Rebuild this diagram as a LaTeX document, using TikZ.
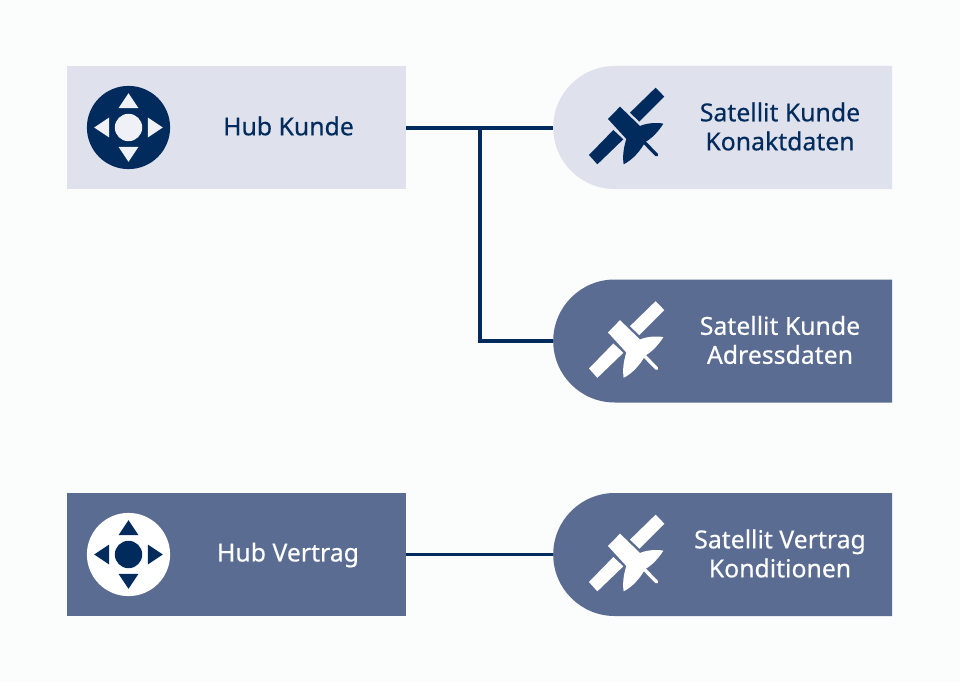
\documentclass[tikz,border=0pt]{standalone}
\usepackage{fontspec}
\setmainfont{Noto Sans}[FakeBold=0.4]
\usetikzlibrary{shapes.misc}
\definecolor{navy}{HTML}{002B5C}
\definecolor{pale}{HTML}{DFE1EC}
\definecolor{slate}{HTML}{5B6C93}
\definecolor{paper}{HTML}{FBFCFC}
\tikzset{
  x=1pt,y=-1pt,
  hubbox/.style={rectangle,draw=none,inner sep=0pt,minimum width=339pt,minimum height=123pt,anchor=north west},
  satbox/.style={rounded rectangle,rounded rectangle east arc=none,draw=none,inner sep=0pt,minimum width=339pt,minimum height=123pt,anchor=west},
  label/.style={align=center,font=\fontsize{24.8}{29}\selectfont,inner sep=0pt},
  link/.style={draw=navy,line width=3.4pt},
  pics/satellite/.style={code={
    \begin{scope}[x=0.3333pt,y=-0.3333pt,fill=#1]
      \fill (332,83) -- (358,110) -- (283,185) -- (255,158) -- cycle;
      \fill (205,210) -- (235,238) -- (157,313) -- (132,285) -- cycle;
      \fill (189,177) -- (225,140) -- (285,198) .. controls (305,189) and (335,187) .. (355,191)
        .. controls (340,215) and (320,236) .. (299,247) -- (296,254)
        .. controls (285,272) and (265,298) .. (236,313)
        .. controls (232,290) and (236,262) .. (244,237) -- cycle;
      \draw[draw=#1,line width=3.4pt,line cap=round] (298,247) -- (335,285);
    \end{scope}}},
  pics/pad/.style 2 args={code={
    \fill[#1] (0,0) circle[radius=41.6pt];
    \fill[#2] (0,0) circle[radius=13.7pt];
    \fill[#2] (0,-34.3) -- (10,-19.3) -- (-10,-19.3) -- cycle;
    \fill[#2] (0,34.3) -- (10,19.3) -- (-10,19.3) -- cycle;
    \fill[#2] (-34.3,0) -- (-19.3,10) -- (-19.3,-10) -- cycle;
    \fill[#2] (34.3,0) -- (19.3,10) -- (19.3,-10) -- cycle;
  }}
}
\begin{document}
\begin{tikzpicture}
\path[use as bounding box,fill=paper] (0,0) rectangle (960,682);

\node[hubbox,fill=pale] (hubk) at (67,66) {};
\node[hubbox,fill=slate] (hubv) at (67,493) {};
\node[satbox,fill=pale] (satk) at (553,127.5) {};
\node[satbox,fill=slate] (sata) at (553,341) {};
\node[satbox,fill=slate] (satv) at (553,554.5) {};

\coordinate (branch) at (480,128);
\coordinate (hubkout) at (406,128);
\draw[link] (hubkout) -- (hubkout -| satk.west);
\draw[link] (branch) |- (sata.west);
\draw[link] (hubv.east) -- (hubv.east -| satv.west);

\pic at (128.5,127.5) {pad={navy}{pale!40!paper}};
\pic at (128.5,554.5) {pad={white}{navy}};

\pic at (545,60) {satellite=navy};
\pic at (545,273.5) {satellite=white};
\pic at (545,487) {satellite=white};

\node[label,text=navy] (thubk) at (288.5,126) {Hub Kunde};
\node[label,text=white] (thubv) at (288,555) {Hub Vertrag};
\node[label,text=navy] (tsatk) at (780,126.5) {Satellit Kunde\\Konaktdaten};
\node[label,text=white] (tsata) at (780,340) {Satellit Kunde\\Adressdaten};
\node[label,text=white] (tsatv) at (780,553.5) {Satellit Vertrag\\Konditionen};
\end{tikzpicture}
\end{document}
